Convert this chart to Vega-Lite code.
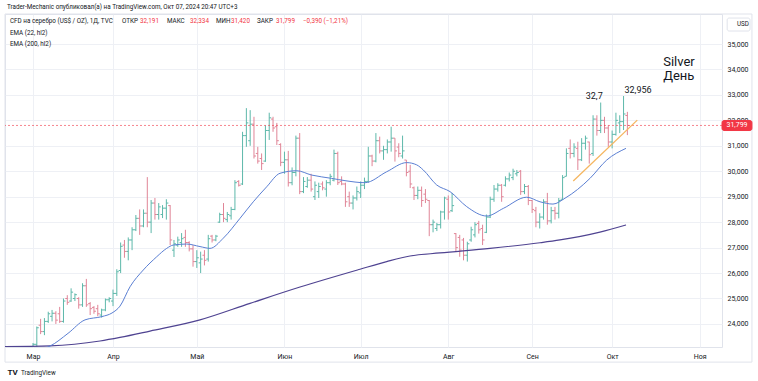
{
 "$schema": "https://vega.github.io/schema/vega-lite/v6.json",
 "width": 717, "height": 333,
 "autosize": {"type": "none"},
 "padding": {"left": 5, "top": 14, "right": 36, "bottom": 34},
 "background": "#ffffff",
 "config": {"font": "Roboto", "view": {"stroke": "#e0e3eb"},
  "axis": {"domain": false, "ticks": false, "gridColor": "#eef0f5", "labelColor": "#131722", "labelFontSize": 7, "labelOverlap": false}},
 "datasets": {
  "bars": [
   {"i":0,"o":22.95,"h":23.25,"l":22.9,"c":23.2},{"i":1,"o":23.2,"h":23.9,"l":23.1,"c":23.85},{"i":2,"o":23.95,"h":24.2,"l":23.6,"c":23.7},{"i":3,"o":23.7,"h":24.23,"l":23.56,"c":24.1},{"i":4,"o":24.1,"h":24.48,"l":24.04,"c":24.4},{"i":5,"o":24.3,"h":24.55,"l":24.1,"c":24.42},{"i":6,"o":24.42,"h":24.5,"l":24.0,"c":24.15},{"i":7,"o":24.4,"h":24.67,"l":24.04,"c":24.1},{"i":8,"o":24.1,"h":25.0,"l":24.05,"c":24.9},{"i":9,"o":25.0,"h":25.13,"l":24.75,"c":24.85},
   {"i":10,"o":24.9,"h":25.4,"l":24.87,"c":25.25},{"i":11,"o":25.0,"h":25.2,"l":24.9,"c":25.15},{"i":12,"o":25.0,"h":25.05,"l":24.6,"c":24.75},{"i":13,"o":24.75,"h":25.6,"l":24.67,"c":25.5},{"i":14,"o":25.5,"h":25.77,"l":24.67,"c":24.75},{"i":15,"o":24.8,"h":24.86,"l":24.35,"c":24.6},{"i":16,"o":24.65,"h":24.7,"l":24.4,"c":24.5},{"i":17,"o":24.6,"h":24.75,"l":24.3,"c":24.4},{"i":18,"o":24.35,"h":24.6,"l":24.25,"c":24.55},{"i":19,"o":24.55,"h":25.0,"l":24.5,"c":24.95},
   {"i":20,"o":24.95,"h":25.05,"l":24.85,"c":25.0},{"i":21,"o":24.9,"h":25.35,"l":24.7,"c":25.2},{"i":22,"o":25.2,"h":26.15,"l":25.1,"c":26.05},{"i":23,"o":26.1,"h":27.2,"l":26.0,"c":27.05},{"i":24,"o":27.1,"h":27.3,"l":26.6,"c":26.85},{"i":25,"o":26.85,"h":27.4,"l":26.5,"c":27.3},{"i":26,"o":27.3,"h":27.8,"l":26.9,"c":27.7},{"i":27,"o":27.7,"h":28.28,"l":27.65,"c":28.15},{"i":28,"o":28.15,"h":28.5,"l":27.5,"c":27.85},{"i":29,"o":27.85,"h":28.5,"l":27.8,"c":28.35},
   {"i":30,"o":28.35,"h":29.77,"l":27.8,"c":28.0},{"i":31,"o":28.0,"h":28.87,"l":27.57,"c":28.75},{"i":32,"o":28.75,"h":28.95,"l":28.1,"c":28.3},{"i":33,"o":28.3,"h":28.75,"l":28.1,"c":28.6},{"i":34,"o":28.3,"h":28.67,"l":28.16,"c":28.55},{"i":35,"o":28.55,"h":28.9,"l":28.1,"c":28.75},{"i":36,"o":28.65,"h":28.67,"l":27.1,"c":27.3},{"i":37,"o":26.9,"h":27.3,"l":26.63,"c":27.15},{"i":38,"o":27.1,"h":27.43,"l":27.03,"c":27.3},{"i":39,"o":27.2,"h":27.57,"l":27.03,"c":27.35},
   {"i":40,"o":27.4,"h":27.7,"l":27.03,"c":27.2},{"i":41,"o":27.2,"h":27.25,"l":26.85,"c":26.95},{"i":42,"o":26.95,"h":27.1,"l":26.25,"c":26.45},{"i":43,"o":26.45,"h":26.9,"l":26.2,"c":26.6},{"i":44,"o":26.4,"h":26.84,"l":26.0,"c":26.55},{"i":45,"o":26.7,"h":26.9,"l":26.3,"c":26.5},{"i":46,"o":26.55,"h":27.5,"l":26.45,"c":27.35},{"i":47,"o":27.45,"h":27.5,"l":27.2,"c":27.3},{"i":48,"o":27.3,"h":27.5,"l":27.25,"c":27.45},{"i":49,"o":28.0,"h":28.37,"l":27.97,"c":28.3},
   {"i":50,"o":28.3,"h":28.75,"l":28.0,"c":28.15},{"i":51,"o":28.1,"h":28.4,"l":28.0,"c":28.3},{"i":52,"o":28.25,"h":28.6,"l":28.1,"c":28.5},{"i":53,"o":28.5,"h":29.65,"l":28.47,"c":29.55},{"i":54,"o":29.6,"h":29.65,"l":29.4,"c":29.45},{"i":55,"o":29.5,"h":31.55,"l":29.46,"c":31.4},{"i":56,"o":31.4,"h":32.48,"l":30.96,"c":31.9},{"i":57,"o":31.2,"h":32.4,"l":31.0,"c":31.85},{"i":58,"o":31.85,"h":32.14,"l":30.5,"c":30.6},{"i":59,"o":30.7,"h":30.96,"l":30.3,"c":30.4},
   {"i":60,"o":30.5,"h":30.7,"l":30.05,"c":30.3},{"i":61,"o":30.4,"h":31.8,"l":30.37,"c":31.6},{"i":62,"o":31.6,"h":32.3,"l":31.23,"c":32.1},{"i":63,"o":32.05,"h":32.14,"l":31.55,"c":31.7},{"i":64,"o":31.75,"h":31.9,"l":31.03,"c":31.2},{"i":65,"o":31.05,"h":31.1,"l":30.2,"c":30.35},{"i":66,"o":30.35,"h":30.77,"l":29.9,"c":30.45},{"i":67,"o":30.45,"h":30.8,"l":29.4,"c":29.55},{"i":68,"o":29.55,"h":30.15,"l":29.45,"c":29.95},{"i":69,"o":29.95,"h":31.4,"l":29.8,"c":31.3},
   {"i":70,"o":31.3,"h":31.5,"l":29.1,"c":29.2},{"i":71,"o":29.2,"h":29.77,"l":29.14,"c":29.6},{"i":72,"o":29.4,"h":29.77,"l":29.35,"c":29.65},{"i":73,"o":29.65,"h":29.9,"l":29.2,"c":29.3},{"i":74,"o":29.0,"h":29.6,"l":28.87,"c":29.45},{"i":75,"o":29.2,"h":29.55,"l":28.95,"c":29.4},{"i":76,"o":29.5,"h":29.6,"l":29.25,"c":29.35},{"i":77,"o":29.3,"h":29.65,"l":29.0,"c":29.55},{"i":78,"o":29.55,"h":29.9,"l":29.45,"c":29.8},{"i":79,"o":29.65,"h":30.85,"l":29.6,"c":30.7},
   {"i":80,"o":30.7,"h":30.77,"l":29.46,"c":29.55},{"i":81,"o":29.6,"h":29.8,"l":29.45,"c":29.5},{"i":82,"o":29.5,"h":29.55,"l":28.6,"c":28.8},{"i":83,"o":29.0,"h":29.2,"l":28.6,"c":28.75},{"i":84,"o":28.75,"h":29.05,"l":28.5,"c":28.95},{"i":85,"o":28.95,"h":29.4,"l":28.85,"c":29.2},{"i":86,"o":29.15,"h":29.6,"l":28.95,"c":29.45},{"i":87,"o":29.45,"h":29.75,"l":29.3,"c":29.6},{"i":88,"o":29.6,"h":30.96,"l":29.55,"c":30.6},{"i":89,"o":30.6,"h":30.65,"l":30.2,"c":30.4},
   {"i":90,"o":30.4,"h":31.5,"l":30.35,"c":31.2},{"i":91,"o":31.2,"h":31.36,"l":30.7,"c":30.8},{"i":92,"o":30.8,"h":31.0,"l":30.45,"c":30.85},{"i":93,"o":30.85,"h":31.25,"l":30.7,"c":31.15},{"i":94,"o":31.15,"h":31.75,"l":30.77,"c":31.3},{"i":95,"o":31.3,"h":31.3,"l":30.38,"c":30.8},{"i":96,"o":30.95,"h":31.1,"l":30.55,"c":30.7},{"i":97,"o":30.6,"h":31.4,"l":30.5,"c":30.8},{"i":98,"o":30.44,"h":30.44,"l":29.8,"c":29.95},{"i":99,"o":30.0,"h":30.25,"l":29.34,"c":29.5},
   {"i":100,"o":29.35,"h":29.4,"l":28.87,"c":29.05},{"i":101,"o":29.05,"h":29.4,"l":28.9,"c":29.25},{"i":102,"o":29.25,"h":29.4,"l":28.6,"c":28.85},{"i":103,"o":29.1,"h":29.3,"l":28.75,"c":28.9},{"i":104,"o":28.85,"h":28.87,"l":27.45,"c":27.9},{"i":105,"o":27.9,"h":28.1,"l":27.6,"c":28.0},{"i":106,"o":27.75,"h":27.97,"l":27.65,"c":27.9},{"i":107,"o":27.9,"h":28.45,"l":27.75,"c":28.4},{"i":108,"o":28.4,"h":29.0,"l":28.1,"c":28.95},{"i":109,"o":28.9,"h":29.05,"l":28.1,"c":28.4},
   {"i":110,"o":28.45,"h":29.15,"l":28.4,"c":28.65},{"i":111,"o":27.55,"h":27.57,"l":26.84,"c":27.0},{"i":112,"o":27.4,"h":27.5,"l":26.64,"c":26.9},{"i":113,"o":27.3,"h":27.38,"l":26.5,"c":26.7},{"i":114,"o":26.7,"h":27.23,"l":26.45,"c":27.15},{"i":115,"o":27.3,"h":27.82,"l":27.23,"c":27.7},{"i":116,"o":27.5,"h":28.0,"l":27.4,"c":27.9},{"i":117,"o":27.95,"h":28.05,"l":27.55,"c":27.7},{"i":118,"o":27.75,"h":27.9,"l":27.1,"c":27.3},{"i":119,"o":27.6,"h":28.3,"l":27.57,"c":28.2},
   {"i":120,"o":28.2,"h":29.0,"l":28.16,"c":28.9},{"i":121,"o":28.9,"h":29.46,"l":28.8,"c":29.3},{"i":122,"o":29.3,"h":29.53,"l":29.2,"c":29.45},{"i":123,"o":29.45,"h":29.5,"l":28.8,"c":29.0},{"i":124,"o":29.45,"h":29.8,"l":29.4,"c":29.7},{"i":125,"o":29.7,"h":29.95,"l":29.6,"c":29.85},{"i":126,"o":29.75,"h":30.1,"l":29.65,"c":30.0},{"i":127,"o":29.9,"h":30.05,"l":29.8,"c":29.95},{"i":128,"o":30.0,"h":30.05,"l":29.07,"c":29.2},{"i":129,"o":29.2,"h":29.5,"l":29.1,"c":29.4},
   {"i":130,"o":29.4,"h":29.46,"l":28.67,"c":28.85},{"i":131,"o":28.85,"h":28.87,"l":28.36,"c":28.5},{"i":132,"o":28.45,"h":28.6,"l":27.8,"c":28.0},{"i":133,"o":28.0,"h":28.35,"l":27.75,"c":28.2},{"i":134,"o":28.2,"h":28.9,"l":28.1,"c":28.8},{"i":135,"o":28.8,"h":29.15,"l":27.9,"c":28.05},{"i":136,"o":28.05,"h":28.6,"l":27.95,"c":28.45},{"i":137,"o":28.45,"h":28.6,"l":28.1,"c":28.35},{"i":138,"o":28.35,"h":28.95,"l":28.15,"c":28.85},{"i":139,"o":28.9,"h":29.85,"l":28.87,"c":29.75},
   {"i":140,"o":29.8,"h":30.9,"l":29.8,"c":30.7},{"i":141,"o":30.9,"h":31.25,"l":30.5,"c":30.7},{"i":142,"o":30.7,"h":31.1,"l":30.55,"c":30.95},{"i":143,"o":30.9,"h":31.16,"l":30.05,"c":30.45},{"i":144,"o":30.45,"h":31.3,"l":30.4,"c":31.1},{"i":145,"o":31.1,"h":31.4,"l":30.85,"c":31.3},{"i":146,"o":31.15,"h":31.16,"l":30.3,"c":30.65},{"i":147,"o":30.7,"h":32.2,"l":30.6,"c":32.05},{"i":148,"o":32.05,"h":32.2,"l":31.4,"c":31.6},{"i":149,"o":31.6,"h":32.7,"l":31.5,"c":32.0},
   {"i":150,"o":32.0,"h":32.14,"l":31.5,"c":31.7},{"i":151,"o":31.7,"h":31.8,"l":30.96,"c":31.15},{"i":152,"o":31.15,"h":31.6,"l":30.9,"c":31.45},{"i":153,"o":31.45,"h":32.3,"l":31.4,"c":32.0},{"i":154,"o":31.9,"h":32.2,"l":31.5,"c":31.95},{"i":155,"o":31.95,"h":32.956,"l":31.62,"c":32.25},{"i":156,"o":32.191,"h":32.334,"l":31.42,"c":31.799}
  ],
  "ema22": [
   {"i":-8,"v":22.7},{"i":0,"v":22.95},{"i":4.46,"v":23.13},{"i":9.19,"v":23.63},{"i":13.65,"v":24.16},{"i":18.11,"v":24.29},{"i":20.73,"v":24.43},{"i":22.83,"v":24.7},{"i":25.46,"v":25.46},{"i":28.95,"v":26.12},{"i":32.47,"v":26.64},{"i":35.09,"v":26.97},{"i":36.82,"v":27.1},{"i":40.34,"v":27.14},{"i":43.83,"v":27.04},{"i":46.46,"v":26.97},{"i":49.95,"v":27.37},{"i":54.33,"v":28.15},{"i":57.82,"v":28.8},{"i":61.34,"v":29.39},{"i":64.83,"v":29.92},{"i":69.21,"v":30.02},{"i":73.15,"v":29.85},{"i":78.4,"v":29.72},{"i":81.89,"v":29.63},{"i":87.14,"v":29.55},{"i":92.83,"v":29.98},{"i":98.08,"v":30.34},{"i":100.71,"v":30.25},{"i":102.44,"v":30.05},{"i":105.96,"v":29.46},{"i":109.45,"v":29.2},{"i":113.83,"v":28.61},{"i":119.08,"v":28.24},{"i":123.44,"v":28.54},{"i":129.58,"v":28.98},{"i":133.07,"v":28.8},{"i":136.48,"v":28.71},{"i":139.63,"v":28.94},{"i":146.19,"v":29.72},{"i":150.58,"v":30.44},{"i":155.64,"v":30.9}
  ],
  "ema200": [
   {"i":-8,"v":23.11},{"i":4.46,"v":23.14},{"i":17.59,"v":23.33},{"i":22.83,"v":23.47},{"i":30.71,"v":23.72},{"i":43.83,"v":24.16},{"i":56.96,"v":24.81},{"i":70.08,"v":25.45},{"i":85.83,"v":26.15},{"i":92.83,"v":26.45},{"i":98.95,"v":26.67},{"i":106.82,"v":26.79},{"i":119.95,"v":26.97},{"i":133.07,"v":27.19},{"i":138.3,"v":27.3},{"i":148.8,"v":27.61},{"i":155.64,"v":27.89}
  ],
  "last": [{"v": 31.799}],
  "trend": [{"i": 141.8, "v": 29.62, "i2": 158.6, "v2": 32.01}],
  "frame": [{"i": -7.35, "v": 36.179, "i2": 188.7, "v2": 22.5}],
  "boxes": [
   {"i": 182.2, "i2": 188.2, "v": 35.51, "v2": 36.02, "k": "usd"},
   {"i": 180.84, "i2": 188.7, "v": 31.6, "v2": 31.995, "k": "price"}
  ],
  "hdr": [
   {"i": -6.82, "v": 36.45, "t": "Trader-Mechanic опубликовал(а) на TradingView.com, Окт 07, 2024 20:47 UTC+3", "k": "lbl"},
   {"i": -6.04, "v": 35.9, "t": "CFD на серебро (US$ / OZ), 1Д, TVC", "k": "lbl"},
   {"i": 23.36, "v": 35.9, "t": "ОТКР", "k": "lbl"},
   {"i": 28.08, "v": 35.9, "t": "32,191", "k": "val"},
   {"i": 35.17, "v": 35.9, "t": "МАКС", "k": "lbl"},
   {"i": 41.21, "v": 35.9, "t": "32,334", "k": "val"},
   {"i": 48.03, "v": 35.9, "t": "МИН", "k": "lbl"},
   {"i": 51.97, "v": 35.9, "t": "31,420", "k": "val"},
   {"i": 58.79, "v": 35.9, "t": "ЗАКР", "k": "lbl"},
   {"i": 63.78, "v": 35.9, "t": "31,799", "k": "val"},
   {"i": 70.87, "v": 35.9, "t": "−0,390 (−1,21%)", "k": "val"},
   {"i": -6.04, "v": 35.43, "t": "EMA (22, hl2)", "k": "lbl"},
   {"i": -6.04, "v": 35.0, "t": "EMA (200, hl2)", "k": "lbl"},
   {"i": -3.15, "v": 22.07, "t": "TradingView", "k": "lbl"},
   {"i": 184.78, "v": 35.79, "t": "USD", "k": "usdt"}
  ],
  "logo": [{"i": -6.7, "v": 22.07, "t": "TV"}],
  "ann": [
   {"i": 147.3, "v": 32.96, "t": "32,7"},
   {"i": 158.8, "v": 33.19, "t": "32,956"}
  ],
  "big": [
   {"i": 165.4, "v": 34.29, "t": "Silver"},
   {"i": 165.4, "v": 33.74, "t": "День"}
  ],
  "plabel": [{"i": 184.78, "v": 31.799, "t": "31,799"}]
 },
 "encoding": {
  "x": {"field": "i", "type": "quantitative", "scale": {"domain": [-7.35, 180.84], "nice": false, "zero": false},
   "axis": {"title": null, "values": [0, 21, 43, 66, 86, 109, 131, 152, 175], "grid": true, "labelPadding": 5,
    "labelExpr": "datum.value==0?'Мар':datum.value==21?'Апр':datum.value==43?'Май':datum.value==66?'Июн':datum.value==86?'Июл':datum.value==109?'Авг':datum.value==131?'Сен':datum.value==152?'Окт':datum.value==175?'Ноя':''"}}
 },
 "layer": [
  {"data": {"name": "bars"}, "mark": {"type": "rule", "strokeWidth": 1, "clip": true},
   "encoding": {
    "y": {"field": "l", "type": "quantitative", "scale": {"domain": [23.094, 36.179], "nice": false, "zero": false},
     "axis": {"title": null, "orient": "right", "values": [24, 25, 26, 27, 28, 29, 30, 31, 32, 33, 34, 35], "grid": true, "labelPadding": 5, "labelAlign": "left", "labelOverlap": false, "labelExpr": "replace(format(datum.value, '.3f'), '.', ',')"}},
    "y2": {"field": "h"},
    "color": {"condition": {"test": "datum.c >= datum.o", "value": "#5db8aa"}, "value": "#e08597"}}},
  {"data": {"name": "frame"}, "mark": {"type": "rect", "fill": "transparent", "stroke": "#e0e3eb", "strokeWidth": 1},
   "encoding": {"x2": {"field": "i2"}, "y": {"field": "v", "type": "quantitative", "axis": {"title": null, "orient": "right", "values": [24, 25, 26, 27, 28, 29, 30, 31, 32, 33, 34, 35], "grid": true, "labelPadding": 5, "labelAlign": "left", "labelOverlap": false, "labelExpr": "replace(format(datum.value, '.3f'), '.', ',')"}}, "y2": {"field": "v2"}}},
  {"data": {"name": "bars"}, "mark": {"type": "tick", "orient": "horizontal", "size": 2, "thickness": 1, "xOffset": -1, "opacity": 1, "clip": true},
   "encoding": {"y": {"field": "o", "type": "quantitative", "axis": {"title": null, "orient": "right", "values": [24, 25, 26, 27, 28, 29, 30, 31, 32, 33, 34, 35], "grid": true, "labelPadding": 5, "labelAlign": "left", "labelOverlap": false, "labelExpr": "replace(format(datum.value, '.3f'), '.', ',')"}},
    "color": {"condition": {"test": "datum.c >= datum.o", "value": "#5db8aa"}, "value": "#e08597"}}},
  {"data": {"name": "bars"}, "mark": {"type": "tick", "orient": "horizontal", "size": 2, "thickness": 1, "xOffset": 1, "opacity": 1, "clip": true},
   "encoding": {"y": {"field": "c", "type": "quantitative", "axis": {"title": null, "orient": "right", "values": [24, 25, 26, 27, 28, 29, 30, 31, 32, 33, 34, 35], "grid": true, "labelPadding": 5, "labelAlign": "left", "labelOverlap": false, "labelExpr": "replace(format(datum.value, '.3f'), '.', ',')"}},
    "color": {"condition": {"test": "datum.c >= datum.o", "value": "#5db8aa"}, "value": "#e08597"}}},
  {"data": {"name": "ema200"}, "mark": {"type": "line", "stroke": "#4f4391", "strokeWidth": 1.2, "interpolate": "monotone", "clip": true},
   "encoding": {"y": {"field": "v", "type": "quantitative", "axis": {"title": null, "orient": "right", "values": [24, 25, 26, 27, 28, 29, 30, 31, 32, 33, 34, 35], "grid": true, "labelPadding": 5, "labelAlign": "left", "labelOverlap": false, "labelExpr": "replace(format(datum.value, '.3f'), '.', ',')"}}}},
  {"data": {"name": "ema22"}, "mark": {"type": "line", "stroke": "#5b7fd3", "strokeWidth": 1, "interpolate": "monotone", "clip": true},
   "encoding": {"y": {"field": "v", "type": "quantitative", "axis": {"title": null, "orient": "right", "values": [24, 25, 26, 27, 28, 29, 30, 31, 32, 33, 34, 35], "grid": true, "labelPadding": 5, "labelAlign": "left", "labelOverlap": false, "labelExpr": "replace(format(datum.value, '.3f'), '.', ',')"}}}},
  {"data": {"name": "last"}, "mark": {"type": "rule", "stroke": "#f23645", "strokeWidth": 1, "strokeDash": [2, 2], "opacity": 0.6},
   "encoding": {"x": null, "y": {"field": "v", "type": "quantitative", "axis": {"title": null, "orient": "right", "values": [24, 25, 26, 27, 28, 29, 30, 31, 32, 33, 34, 35], "grid": true, "labelPadding": 5, "labelAlign": "left", "labelOverlap": false, "labelExpr": "replace(format(datum.value, '.3f'), '.', ',')"}}}},
  {"data": {"name": "trend"}, "mark": {"type": "rule", "stroke": "#f5b660", "strokeWidth": 1.3},
   "encoding": {"x2": {"field": "i2"}, "y": {"field": "v", "type": "quantitative", "axis": {"title": null, "orient": "right", "values": [24, 25, 26, 27, 28, 29, 30, 31, 32, 33, 34, 35], "grid": true, "labelPadding": 5, "labelAlign": "left", "labelOverlap": false, "labelExpr": "replace(format(datum.value, '.3f'), '.', ',')"}}, "y2": {"field": "v2"}}},
  {"data": {"name": "boxes"}, "mark": {"type": "rect", "strokeWidth": 1, "cornerRadius": 2},
   "encoding": {"x2": {"field": "i2"},
    "y": {"field": "v", "type": "quantitative", "axis": {"title": null, "orient": "right", "values": [24, 25, 26, 27, 28, 29, 30, 31, 32, 33, 34, 35], "grid": true, "labelPadding": 5, "labelAlign": "left", "labelOverlap": false, "labelExpr": "replace(format(datum.value, '.3f'), '.', ',')"}},
    "y2": {"field": "v2"},
    "fill": {"field": "k", "type": "nominal", "scale": {"domain": ["usd", "price"], "range": ["#ffffff", "#f23645"]}, "legend": null},
    "stroke": {"field": "k", "type": "nominal", "scale": {"domain": ["usd", "price"], "range": ["#e0e3eb", "#f23645"]}, "legend": null}}},
  {"data": {"name": "hdr"}, "mark": {"type": "text", "align": "left", "baseline": "middle", "fontSize": 6.3},
   "encoding": {"y": {"field": "v", "type": "quantitative", "axis": {"title": null, "orient": "right", "values": [24, 25, 26, 27, 28, 29, 30, 31, 32, 33, 34, 35], "grid": true, "labelPadding": 5, "labelAlign": "left", "labelOverlap": false, "labelExpr": "replace(format(datum.value, '.3f'), '.', ',')"}},
    "text": {"field": "t"},
    "color": {"field": "k", "type": "nominal", "scale": {"domain": ["lbl", "val", "usdt"], "range": ["#131722", "#f23645", "#131722"]}, "legend": null}}},
  {"data": {"name": "logo"}, "mark": {"type": "text", "align": "left", "baseline": "middle", "fontSize": 8, "fontWeight": "bold", "color": "#131722"},
   "encoding": {"y": {"field": "v", "type": "quantitative", "axis": {"title": null, "orient": "right", "values": [24, 25, 26, 27, 28, 29, 30, 31, 32, 33, 34, 35], "grid": true, "labelPadding": 5, "labelAlign": "left", "labelOverlap": false, "labelExpr": "replace(format(datum.value, '.3f'), '.', ',')"}}, "text": {"field": "t"}}},
  {"data": {"name": "ann"}, "mark": {"type": "text", "align": "center", "baseline": "middle", "fontSize": 9, "color": "#131722"},
   "encoding": {"y": {"field": "v", "type": "quantitative", "axis": {"title": null, "orient": "right", "values": [24, 25, 26, 27, 28, 29, 30, 31, 32, 33, 34, 35], "grid": true, "labelPadding": 5, "labelAlign": "left", "labelOverlap": false, "labelExpr": "replace(format(datum.value, '.3f'), '.', ',')"}}, "text": {"field": "t"}}},
  {"data": {"name": "big"}, "mark": {"type": "text", "align": "left", "baseline": "middle", "fontSize": 13, "color": "#131722"},
   "encoding": {"y": {"field": "v", "type": "quantitative", "axis": {"title": null, "orient": "right", "values": [24, 25, 26, 27, 28, 29, 30, 31, 32, 33, 34, 35], "grid": true, "labelPadding": 5, "labelAlign": "left", "labelOverlap": false, "labelExpr": "replace(format(datum.value, '.3f'), '.', ',')"}}, "text": {"field": "t"}}},
  {"data": {"name": "plabel"}, "mark": {"type": "text", "align": "center", "baseline": "middle", "fontSize": 7, "color": "#ffffff"},
   "encoding": {"y": {"field": "v", "type": "quantitative", "axis": {"title": null, "orient": "right", "values": [24, 25, 26, 27, 28, 29, 30, 31, 32, 33, 34, 35], "grid": true, "labelPadding": 5, "labelAlign": "left", "labelOverlap": false, "labelExpr": "replace(format(datum.value, '.3f'), '.', ',')"}}, "text": {"field": "t"}}}
 ]
}
